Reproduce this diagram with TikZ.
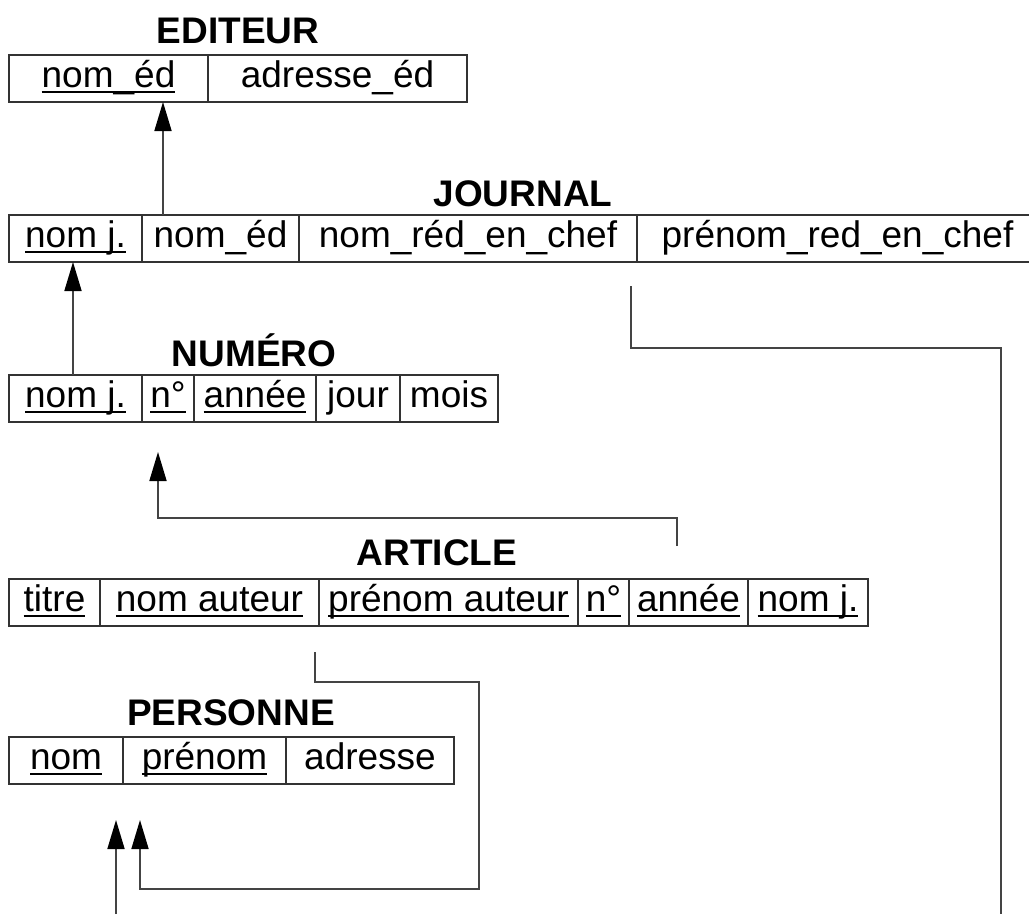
\documentclass[tikz,border=0pt]{standalone}
\usepackage{fontspec}
\setmainfont{Liberation Sans}
\usetikzlibrary{arrows.meta}
\definecolor{boxc}{HTML}{333333}
\definecolor{linec}{HTML}{444444}
\newcommand\keyu[1]{\setbox0\hbox{#1}\rlap{\rule[-6pt]{\wd0}{1.6pt}}\box0}
\begin{document}
\begin{tikzpicture}[x=1pt,y=-1pt,
  cell/.style={draw=boxc, line width=1.5pt, inner xsep=0pt, inner ysep=0pt, outer sep=0pt,
    minimum height=47pt, text height=32pt, text depth=15pt, anchor=north west,
    font=\fontsize{37}{44}\selectfont},
  title/.style={anchor=base, inner sep=0pt, font=\bfseries\fontsize{37}{44}\selectfont},
  ln/.style={draw=linec, line width=1.7pt},
  fk/.style={ln, -{Triangle[width=17pt,length=29pt,color=black]}}]
\useasboundingbox (0,0) rectangle (1029,914);
% EDITEUR
\node[title] (tE) at (238,43) {EDITEUR};
\node[cell, minimum width=199pt] (e1) at (9,55) {\keyu{nom\_éd}};
\node[cell, minimum width=259pt] (e2) at (208,55) {adresse\_éd};
% JOURNAL
\node[title] (tJ) at (523,206) {JOURNAL};
\node[cell, minimum width=133pt] (j1) at (9,215) {\keyu{nom j.}};
\node[cell, minimum width=157pt] (j2) at (142,215) {nom\_éd};
\node[cell, minimum width=338pt] (j3) at (299,215) {nom\_réd\_en\_chef};
\node[cell, minimum width=401pt] (j4) at (637,215) {prénom\_red\_en\_chef};
% NUMERO
\node[title] (tN) at (254,366) {NUMÉRO};
\node[cell, minimum width=133pt] (n1) at (9,375) {\keyu{nom j.}};
\node[cell, minimum width=52pt] (n2) at (142,375) {\keyu{n°}};
\node[cell, minimum width=122pt] (n3) at (194,375) {\keyu{année}};
\node[cell, minimum width=84pt] (n4) at (316,375) {jour};
\node[cell, minimum width=98pt] (n5) at (400,375) {mois};
% ARTICLE
\node[title] (tA) at (437,565) {ARTICLE};
\node[cell, minimum width=91pt] (a1) at (9,579) {\keyu{titre}};
\node[cell, minimum width=219pt] (a2) at (100,579) {\keyu{nom auteur}};
\node[cell, minimum width=259pt] (a3) at (319,579) {\keyu{prénom auteur}};
\node[cell, minimum width=51pt] (a4) at (578,579) {\keyu{n°}};
\node[cell, minimum width=119pt] (a5) at (629,579) {\keyu{année}};
\node[cell, minimum width=120pt] (a6) at (748,579) {\keyu{nom j.}};
% PERSONNE
\node[title] (tP) at (231,725) {PERSONNE};
\node[cell, minimum width=114pt] (p1) at (9,737) {\keyu{nom}};
\node[cell, minimum width=163pt] (p2) at (123,737) {\keyu{prénom}};
\node[cell, minimum width=168pt] (p3) at (286,737) {adresse};
% connectors
\draw[fk] ([xshift=21pt]j2.north west) -- ([xshift=21pt]j2.north west |- e1.south);
\draw[fk] ([xshift=-2.5pt]n1.north) -- ([xshift=-2.5pt]n1.north |- j1.south);
\coordinate (c1s) at (677,546);
\coordinate (c1e) at (158,452);
\draw[fk] (c1s) -- ++(0,-28) -| (c1e);
\coordinate (c2s) at (315,652);
\coordinate (c2e) at (140,820);
\draw[fk] (c2s) -- ++(0,30) -- ++(164,0) -- ++(0,207) -| (c2e);
\coordinate (c3s) at (116,914);
\coordinate (c3e) at (116,820);
\draw[fk] (c3s) -- (c3e);
\coordinate (c4s) at (631,286);
\coordinate (c4e) at (1001,914);
\draw[ln] (c4s) -- ++(0,62) -| (c4e);
\end{tikzpicture}
\end{document}
